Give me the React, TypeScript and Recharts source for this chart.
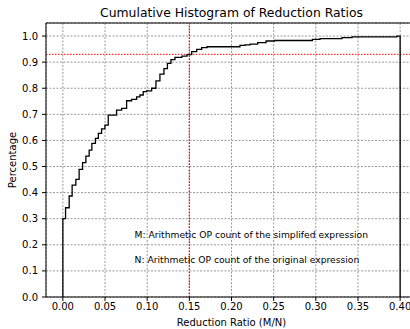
import React from "react";
import { CartesianGrid, Label, Line, LineChart, ReferenceDot, ReferenceLine, XAxis, YAxis } from "recharts";

// step edges of the cumulative histogram (reduction ratio M/N)
const ratio = [
  0, 0, 0.0032, 0.0075, 0.011, 0.0154, 0.0193, 0.0234, 0.0273, 0.0312, 0.0344, 0.0386, 0.0421, 0.0459,
  0.0499, 0.0538, 0.0637, 0.0697, 0.0756, 0.0815, 0.0875, 0.0914, 0.0953, 0.0993, 0.1053, 0.1104,
  0.1151, 0.1199, 0.124, 0.1282, 0.1329, 0.1412, 0.1472, 0.1528, 0.1587, 0.1646, 0.171, 0.21, 0.216,
  0.222, 0.231, 0.241, 0.251, 0.296, 0.305, 0.331, 0.343, 0.396, 0.4, 0.4,
];
const cumulative = [
  0, 0.3, 0.342, 0.387, 0.429, 0.451, 0.489, 0.515, 0.54, 0.563, 0.589, 0.608, 0.627, 0.644, 0.659,
  0.697, 0.716, 0.723, 0.752, 0.757, 0.767, 0.774, 0.787, 0.79, 0.8, 0.828, 0.854, 0.875, 0.895, 0.91,
  0.918, 0.923, 0.929, 0.94, 0.949, 0.956, 0.959, 0.964, 0.966, 0.969, 0.975, 0.981, 0.983, 0.987,
  0.99, 0.994, 0.997, 1.0, 1.0, 0,
];

const xTicks = [0, 0.05, 0.1, 0.15, 0.2, 0.25, 0.3, 0.35, 0.4];
const yTicks = [0, 0.1, 0.2, 0.3, 0.4, 0.5, 0.6, 0.7, 0.8, 0.9, 1.0];

const cutoffRatio = 0.15;
const cutoffShare = 0.93;

const notes = [
  { x: 0.085, y: 0.237, text: "M: Arithmetic OP count of the simplifed expression" },
  { x: 0.085, y: 0.141, text: "N: Arithmetic OP count of the original expression" },
];

const data = ratio.map((r, i) => ({ ratio: r, share: cumulative[i] }));

const tickStyle = { fill: "#000", fontSize: 10 };

export default function App() {
  return (
    <div
      style={{
        position: "absolute",
        left: 0,
        top: 0,
        width: 410,
        height: 329,
        overflow: "hidden",
        background: "#fff",
        fontFamily: "DejaVu Sans, sans-serif",
      }}
    >
      <LineChart width={420} height={329} data={data} margin={{ top: 23, right: 3, left: 6, bottom: 0 }}>
        <CartesianGrid stroke="#999" strokeDasharray="2 1.5" />
        <XAxis
          dataKey="ratio"
          type="number"
          domain={[-0.02, 0.42]}
          ticks={xTicks}
          allowDataOverflow
          tickFormatter={(v: number) => v.toFixed(2)}
          tick={tickStyle}
          tickSize={4}
          tickMargin={2}
          height={32}
          stroke="#000"
        >
          <Label value="Reduction Ratio (M/N)" position="insideBottom" offset={3} fill="#000" fontSize={10} />
        </XAxis>
        <YAxis
          type="number"
          domain={[0, 1.05]}
          ticks={yTicks}
          allowDataOverflow
          tickFormatter={(v: number) => v.toFixed(1)}
          tick={tickStyle}
          tickSize={4}
          tickMargin={4}
          width={40}
          stroke="#000"
          label={({ viewBox }: any) => (
            <text
              x={13}
              y={viewBox.y + viewBox.height / 2}
              transform={`rotate(-90 13 ${viewBox.y + viewBox.height / 2})`}
              textAnchor="middle"
              dominantBaseline="middle"
              fontSize={10}
              fill="#000"
            >
              Percentage
            </text>
          )}
        />
        <ReferenceLine y={1.05} stroke="#000" strokeWidth={1}>
          <Label value="Cumulative Histogram of Reduction Ratios" position="top" offset={6} fill="#000" fontSize={12.4} />
        </ReferenceLine>
        <ReferenceLine x={0.42} stroke="#000" />
        <ReferenceLine y={cutoffShare} stroke="#ff0000" strokeDasharray="1.5 1.5" />
        <ReferenceLine x={cutoffRatio} stroke="#ff0000" strokeWidth={1.2} strokeDasharray="1.5 1.5" />
        <Line
          type="stepAfter"
          dataKey="share"
          stroke="#000"
          strokeWidth={1.3}
          dot={false}
          isAnimationActive={false}
        />
        {notes.map((n) => (
          <ReferenceDot key={n.text} x={n.x} y={n.y} r={0} stroke="none" fill="none">
            <Label value={n.text} position="right" offset={0} fill="#000" fontSize={9.2} />
          </ReferenceDot>
        ))}
      </LineChart>
    </div>
  );
}
